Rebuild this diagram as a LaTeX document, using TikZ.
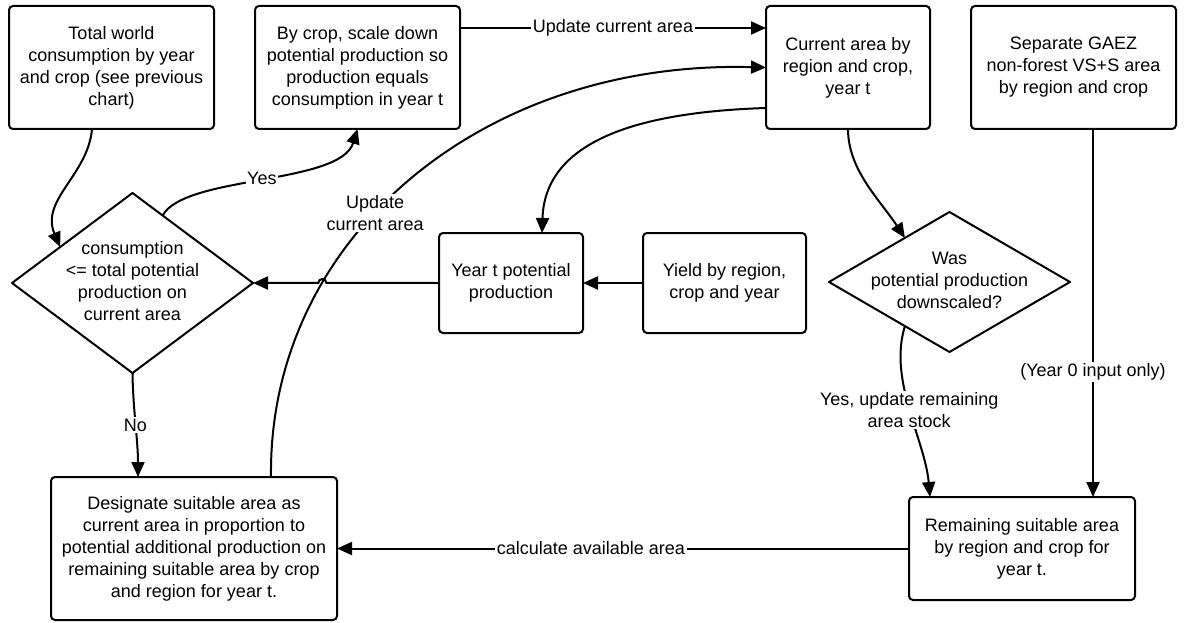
\documentclass[tikz,border=0pt]{standalone}
\usepackage{fontspec}
\setmainfont{Liberation Sans}
\usetikzlibrary{shapes.geometric,arrows.meta,calc,intersections}
\newcommand\dtext[1]{\raisebox{-4.5pt}[0pt][0pt]{\makebox[0pt]{\begin{tabular}{@{}c@{}}#1\end{tabular}}}}
\begin{document}
\begin{tikzpicture}[x=1pt,y=1pt,
  every node/.style={font=\fontsize{18}{22}\selectfont},
  box/.style={draw, line width=2pt, rounded corners=4pt, align=center, inner sep=0pt, outer sep=0pt},
  dia/.style={draw, diamond, line width=2pt, line join=round, inner sep=0pt, outer sep=0pt, minimum width=241pt},
  conn/.style={line width=2pt, -{Triangle[length=15pt,width=13pt]}},
  lab/.style={fill=white, inner sep=1.5pt, align=center}
]
\fill[white] (0,0) rectangle (1187,-623);
\useasboundingbox (0,0) rectangle (1187,-623);

% boxes
\node[box, minimum width=205pt, minimum height=123pt] (A) at (111.5,-67.5)
  {Total world\\consumption by year\\and crop (see previous\\chart)};
\node[box, minimum width=205pt, minimum height=123pt] (B) at (357.5,-67.5)
  {By crop, scale down\\potential production so\\production equals\\consumption in year t};
\node[box, minimum width=164pt, minimum height=123pt] (C) at (848,-67.5)
  {Current area by\\region and crop,\\year t};
\node[box, minimum width=205pt, minimum height=123pt] (D) at (1073.5,-67.5)
  {Separate GAEZ\\non-forest VS+S area\\by region and crop};
\node[dia, minimum height=180pt] (d1) at (132.5,-283)
  {\dtext{consumption\\<= total potential\\production on\\current area}};
\node[box, minimum width=144pt, minimum height=100pt] (E) at (511,-283)
  {Year t potential\\production};
\node[box, minimum width=163pt, minimum height=100pt] (F) at (724.5,-283)
  {Yield by region,\\crop and year};
\node[dia, minimum height=140pt] (d2) at (949.5,-282)
  {\dtext{Was\\potential production\\downscaled?}};
\node[box, minimum width=226pt, minimum height=103pt] (G) at (1022,-548.5)
  {Remaining suitable area\\by region and crop for\\year t.};
\node[box, minimum width=286pt, minimum height=143pt] (H) at (194,-548.5)
  {Designate suitable area as\\current area in proportion to\\potential additional production on\\remaining suitable area by crop\\and region for year t.};

% connectors
\draw[conn] ([xshift=-19.5pt]A.south) .. controls (88,-175) and (40,-200) .. ($(d1.west)!0.4!(d1.north)$);
\draw[conn] ($(d1.north)!0.25!(d1.east)$) .. controls (185,-175) and (340,-185) .. (B.south)
  node[lab,pos=0.5]{Yes};
\draw[conn] ([yshift=39.5pt]B.east) -- ([yshift=39.5pt]C.west)
  node[lab,midway]{Update current area};
\draw[conn] (C.south) .. controls (848,-170) and (880,-200) .. ($(d2.west)!0.63!(d2.north)$);
\draw[conn] ([yshift=-40.5pt]C.west) .. controls (640,-112) and (545,-140) .. ([xshift=31pt]E.north);
\draw[conn, name path=upd] ([xshift=77pt]H.north) .. controls (268,-240) and (480,-60) .. (C.west)
  node[lab,pos=0.43]{Update\\current area};
\path[name path=hl] (E.west) -- (d1.east);
\path[name intersections={of=upd and hl, by=X}];
\draw[conn] (E.west) -- ([xshift=4pt]X) arc[start angle=0,end angle=180,radius=4pt] -- (d1.east);
\draw[conn] (F.west) -- (E.east);
\coordinate (Dout) at ([xshift=19.5pt]D.south);
\draw[conn] (Dout) -- (Dout |- G.north) node[lab,pos=0.66]{(Year 0 input only)};
\draw[conn] ($(d2.west)!0.63!(d2.south)$) .. controls (888,-380) and (925,-440) .. ([xshift=21pt]G.north west)
  node[lab,pos=0.5]{Yes, update remaining\\area stock};
\draw[conn] (d1.south) .. controls (133,-410) and (138,-440) .. ([xshift=-56pt]H.north)
  node[lab,pos=0.5]{No};
\draw[conn] (G.west) -- (H.east) node[lab,pos=0.556]{calculate available area};
\end{tikzpicture}
\end{document}
